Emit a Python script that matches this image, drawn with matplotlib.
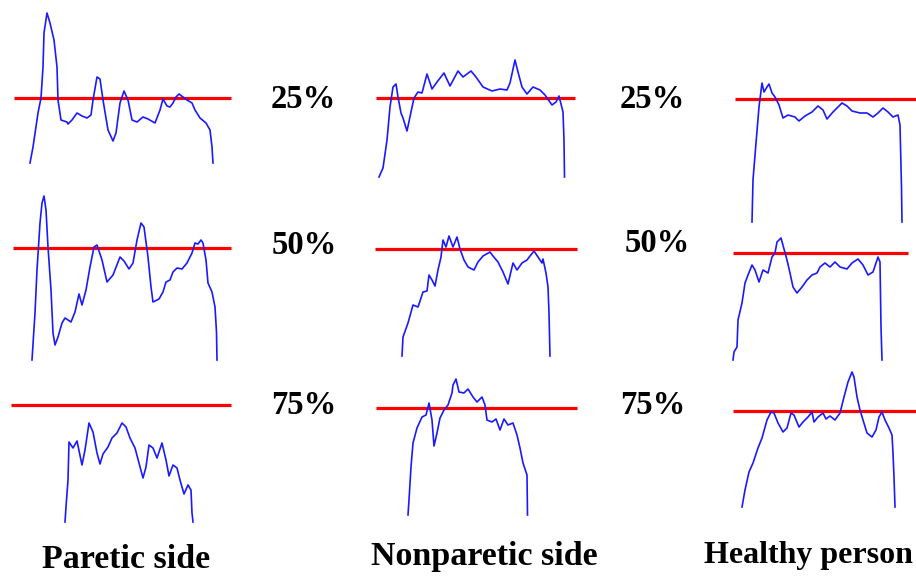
import matplotlib
matplotlib.use("Agg")
import matplotlib.pyplot as plt

# traced force curves, x/y in picture units (y grows downward)
par25_x = [30, 33, 38, 41, 43, 44, 47, 50, 54, 57, 58, 61, 67, 68, 72, 77, 82, 87, 91, 93, 97, 100,
           103, 108, 113, 116, 120, 124, 128, 132, 137, 143, 148, 155, 160, 163, 167, 170, 173, 176,
           179, 183, 187, 192, 195, 200, 206, 210, 212, 213]
par25_y = [163, 147, 113, 98, 67, 33, 13, 23, 40, 67, 100, 120, 122, 124, 120, 113, 116, 118, 115,
           100, 77, 79, 100, 130, 141, 133, 103, 91, 100, 120, 122, 117, 119, 123, 110, 99, 106, 107,
           103, 97, 94, 97, 100, 103, 110, 118, 123, 130, 147, 163]

non25_x = [379, 383, 387, 390, 393, 396, 398, 401, 403, 407, 411, 414, 418, 422, 427, 432, 437, 444,
           450, 458, 463, 471, 476, 483, 492, 500, 507, 510, 515, 518, 522, 527, 533, 540, 545, 552,
           556, 559, 563, 564, 564.5]
non25_y = [177, 168, 140, 107, 87, 84, 97, 113, 118, 131, 112, 98, 92, 93, 74, 89, 82, 73, 86, 71,
           77, 71, 77, 87, 91, 89, 90, 83, 60, 72, 87, 94, 87, 90, 95, 105, 102, 96, 112, 140, 177]

hea25_x = [752, 753, 756, 759, 762, 764, 767, 769, 772, 775, 779, 783, 788, 795, 799, 805, 812, 818,
           823, 827, 833, 842, 847, 852, 860, 867, 873, 878, 883, 888, 893, 898, 900, 901.5, 902]
hea25_y = [222, 180, 143, 107, 83, 92, 87, 84, 93, 97, 105, 118, 115, 117, 121, 116, 112, 106, 110,
           119, 112, 103, 106, 111, 113, 113, 117, 113, 108, 112, 117, 115, 125, 187, 222]

par50_x = [32, 35, 37, 40, 42, 44, 46, 48, 51, 53, 55, 58, 62, 65, 71, 75, 79, 82, 86, 90, 94, 97,
           102, 107, 113, 120, 124, 129, 133, 137, 141, 144, 148, 151, 153, 159, 163, 166, 170, 173,
           177, 182, 187, 192, 195, 198, 201, 203, 206, 208, 212, 215, 216.5, 217]
par50_y = [360, 313, 270, 223, 203, 196, 210, 247, 290, 333, 345, 337, 323, 318, 322, 312, 294, 305,
           290, 267, 247, 245, 260, 282, 275, 257, 261, 269, 263, 240, 223, 227, 257, 287, 302, 299,
           292, 282, 280, 272, 268, 269, 263, 253, 243, 244, 240, 243, 260, 283, 292, 307, 332, 360]

non50_x = [402, 403, 408, 413, 418, 423, 427, 429, 432, 435, 438, 441, 443, 446, 449, 453, 457, 460,
           464, 468, 474, 478, 483, 490, 493, 498, 503, 508, 513, 517, 522, 527, 530, 534, 538, 542,
           543, 546, 548, 549, 550]
non50_y = [356, 337, 323, 305, 307, 292, 291, 275, 280, 286, 270, 257, 240, 247, 236, 247, 237, 249,
           260, 267, 270, 262, 256, 252, 256, 262, 272, 284, 263, 270, 263, 260, 256, 251, 257, 263,
           259, 273, 287, 313, 356]

hea50_x = [733, 734, 737, 738, 742, 745, 748, 752, 755, 759, 763, 768, 772, 775, 777, 781, 784, 787,
           790, 793, 797, 802, 807, 812, 817, 820, 825, 830, 835, 840, 847, 852, 858, 863, 868, 873,
           878, 880, 881, 882]
hea50_y = [360, 352, 347, 320, 303, 283, 275, 265, 270, 282, 270, 273, 257, 253, 242, 238, 249, 260,
           273, 287, 293, 287, 280, 275, 273, 267, 263, 267, 262, 267, 269, 263, 259, 265, 275, 272,
           257, 262, 327, 360]

par75_x = [65, 66, 68, 69, 73, 77, 82, 85, 89, 93, 97, 100, 103, 108, 112, 117, 122, 126, 130, 135,
           139, 143, 146, 149, 153, 157, 162, 166, 169, 173, 177, 180, 184, 188, 191, 192, 193]
par75_y = [522, 507, 480, 442, 448, 441, 465, 450, 423, 432, 453, 464, 454, 447, 438, 433, 423, 427,
           438, 448, 463, 478, 467, 445, 448, 458, 443, 460, 476, 465, 468, 480, 494, 485, 490, 513, 522]

non75_x = [408, 409, 411, 413, 417, 422, 426, 429, 432, 434, 437, 440, 444, 448, 452, 453, 456, 459,
           464, 468, 473, 477, 482, 485, 487, 492, 496, 500, 504, 508, 513, 517, 520, 523, 527, 527.5]
non75_y = [515, 500, 467, 443, 428, 417, 415, 403, 420, 446, 433, 418, 410, 405, 393, 385, 379, 392,
           393, 389, 397, 402, 397, 405, 420, 422, 419, 430, 419, 425, 423, 435, 448, 463, 475, 515]

hea75_x = [742, 745, 749, 753, 758, 762, 767, 771, 774, 778, 783, 787, 791, 794, 799, 803, 808, 812,
           814, 818, 823, 826, 830, 835, 840, 844, 848, 852, 854, 857, 860, 863, 867, 872, 876, 879,
           882, 885, 889, 892, 893, 894, 895]
hea75_y = [507, 490, 472, 463, 448, 438, 420, 412, 413, 423, 432, 428, 413, 415, 427, 422, 417, 412,
           422, 417, 413, 419, 416, 420, 413, 397, 382, 372, 377, 397, 410, 420, 433, 437, 430, 417,
           412, 420, 428, 435, 453, 477, 507]

curves = [(par25_x, par25_y), (non25_x, non25_y), (hea25_x, hea25_y),
          (par50_x, par50_y), (non50_x, non50_y), (hea50_x, hea50_y),
          (par75_x, par75_y), (non75_x, non75_y), (hea75_x, hea75_y)]

# red reference levels: (level, start, end)
ref_lines = [(98, 14, 231), (97.5, 376, 575), (99, 735, 916),
             (248, 13, 231), (249, 375, 577), (252.5, 733, 908),
             (404.5, 11, 231), (407.5, 376, 577), (410.5, 733, 916)]

pct_labels = ["25%", "25%", "50%", "50%", "75%", "75%"]
pct_pos = [(303, 99), (652, 99), (304, 246), (657, 243), (304, 406), (653, 406)]

side_labels = ["Paretic side", "Nonparetic side", "Healthy person"]

fig = plt.figure(figsize=(9.16, 5.77), dpi=100)
ax = fig.add_axes([0, 0, 1, 1])
ax.set_xlim(0, 916)
ax.set_ylim(577, 0)
ax.axis("off")

for y, x0, x1 in ref_lines:
    ax.plot([x0, x1], [y, y], color="#ff0000", lw=2.3, solid_capstyle="butt", zorder=1)

for xs, ys in curves:
    ax.plot(xs, ys, color="#1a1aff", lw=1.2, zorder=2)

for lab, (x, y) in zip(pct_labels, pct_pos):
    ax.text(x, y, lab, ha="center", va="center", family="Liberation Serif",
            weight="bold", fontsize=23.5)

side_font = dict(family="Liberation Serif", weight="bold", fontsize=24.5)
ax.text(126, 559, side_labels[0], ha="center", va="center", **side_font)
ax.text(484, 557, side_labels[1], ha="center", va="center", **side_font)
ax.text(913, 555, side_labels[2], ha="right", va="center", family="Liberation Serif",
        weight="bold", fontsize=23)

fig.savefig("out.png", dpi=100)
